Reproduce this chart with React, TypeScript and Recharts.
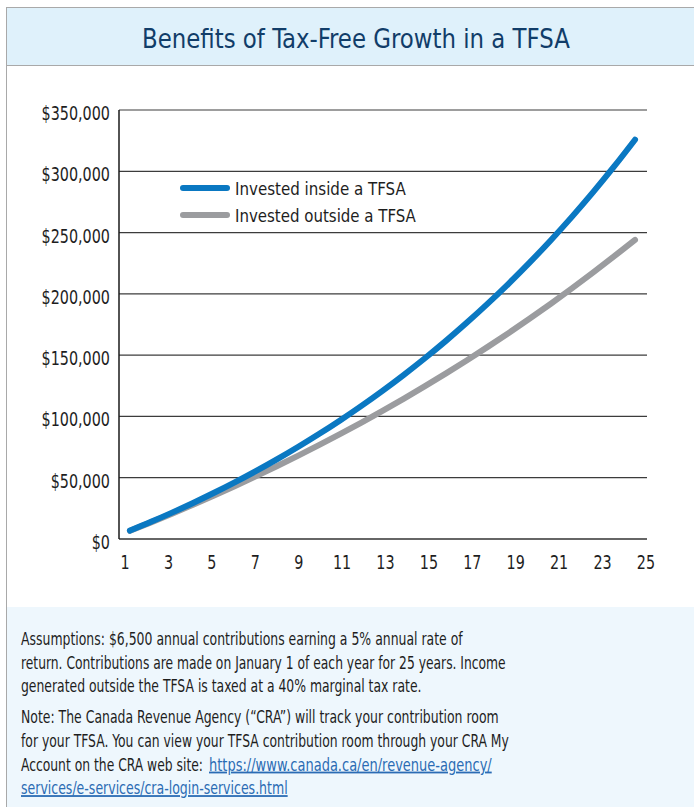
import React from "react";
import { LineChart, Line, XAxis, YAxis, CartesianGrid, Legend } from "recharts";

const years = [1, 2, 3, 4, 5, 6, 7, 8, 9, 10, 11, 12, 13, 14, 15, 16, 17, 18, 19, 20, 21, 22, 23, 24, 25];
const insideTFSA = [6825, 13990, 21520, 29420, 37710, 46420, 55570, 65170, 75260, 85840, 96960, 108630, 120890, 133760, 147270, 161460, 176360, 192000, 208430, 225680, 243780, 262800, 282760, 303730, 325740];
const outsideTFSA = [6695, 13590, 20690, 28010, 35540, 43300, 51300, 59530, 68010, 76750, 85750, 95010, 104560, 114390, 124520, 134950, 145690, 156760, 168160, 179890, 191990, 204440, 217270, 230480, 244090];
const xTicks = [1, 3, 5, 7, 9, 11, 13, 15, 17, 19, 21, 23, 25];
const yTicks = [0, 50000, 100000, 150000, 200000, 250000, 300000, 350000];
const seriesNames = ["Invested inside a TFSA", "Invested outside a TFSA"];
const title = "Benefits of Tax-Free Growth in a TFSA";
const assumptionLines = [
  "Assumptions: $6,500 annual contributions earning a 5% annual rate of",
  "return. Contributions are made on January 1 of each year for 25 years. Income",
  "generated outside the TFSA is taxed at a 40% marginal tax rate.",
];
const noteLines = [
  "Note: The Canada Revenue Agency (\u201CCRA\u201D) will track your contribution room",
  "for your TFSA. You can view your TFSA contribution room through your CRA My",
];
const noteLead = "Account on the CRA web site:";
const linkLines = ["https://www.canada.ca/en/revenue-agency/", "services/e-services/cra-login-services.html"];

const data = years.map((y, i) => ({ year: y, inside: insideTFSA[i], outside: outsideTFSA[i] }));

const FONT = "'Liberation Sans Narrow', 'DejaVu Sans Condensed', 'Arial Narrow', sans-serif";
const BLUE = "#0a78c2";
const GRAY = "#9b9c9f";
const TEXT = "#1e1e1e";
const LINK = "#2b6cb4";

const fmt = (v: number) => "$" + v.toLocaleString("en-US");

let measureCtx: CanvasRenderingContext2D | null = null;
const measure = (txt: string, size: number): number => {
  try {
    if (!measureCtx) measureCtx = document.createElement("canvas").getContext("2d");
    if (!measureCtx) return 0;
    measureCtx.font = `${size}px ${FONT}`;
    return measureCtx.measureText(txt).width;
  } catch (e) {
    return 0;
  }
};

const FitText = ({ x, y, w, size, fill, underline, children }: any) => {
  const nat = measure(children, size);
  const s = nat > 0 ? w / nat : 1;
  return (
    <text
      transform={`translate(${x},${y}) scale(${s},1)`}
      fontFamily={FONT}
      fontSize={size}
      fill={fill}
      style={underline ? { textDecoration: "underline" } : undefined}
    >
      {children}
    </text>
  );
};

const YTick = (props: any) => {
  const { x, y, payload } = props;
  return (
    <text transform={`translate(${x},${y + 10}) scale(0.84,1)`} textAnchor="end" fontFamily={FONT} fontSize={19} fill={TEXT}>
      {fmt(payload.value)}
    </text>
  );
};

const XTick = (props: any) => {
  const { x, y, payload } = props;
  return (
    <text transform={`translate(${x},${y + 30}) scale(0.84,1)`} textAnchor="middle" fontFamily={FONT} fontSize={19} fill={TEXT}>
      {payload.value}
    </text>
  );
};

const LegendContent = () => (
  <svg width={260} height={54} style={{ display: "block" }}>
    <line x1={5} y1={12} x2={49} y2={12} stroke={BLUE} strokeWidth={6} strokeLinecap="round" />
    <FitText x={57} y={18.5} w={171} size={18} fill={TEXT}>{seriesNames[0]}</FitText>
    <line x1={5} y1={39} x2={49} y2={39} stroke={GRAY} strokeWidth={6} strokeLinecap="round" />
    <FitText x={57} y={45.5} w={181} size={18} fill={TEXT}>{seriesNames[1]}</FitText>
  </svg>
);

const footerLineXs = [463, 506, 422];
const noteLineXs = [499, 509];
const FS = 18;

export default function App() {
  return (
    <div style={{ position: "absolute", left: 0, top: 0, width: 694, height: 807, background: "#ffffff", overflow: "hidden" }}>
      {/* header */}
      <div style={{ position: "absolute", left: 6, top: 7, width: 688, height: 1, background: "#a9a9a9" }} />
      <div style={{ position: "absolute", left: 7, top: 8, width: 687, height: 57, background: "#dff1fb" }} />
      <div style={{ position: "absolute", left: 6, top: 65, width: 688, height: 1, background: "#a9a9a9" }} />
      {/* footer bg */}
      <div style={{ position: "absolute", left: 7, top: 607, width: 687, height: 200, background: "#eef7fd" }} />
      {/* left border */}
      <div style={{ position: "absolute", left: 6, top: 7, width: 1, height: 800, background: "#a9a9a9" }} />

      <div style={{ position: "absolute", left: 0, top: 66 }}>
        <LineChart width={694} height={540} data={data} margin={{ top: 44, right: 47, bottom: 37, left: 0 }}>
          <CartesianGrid horizontal vertical={false} stroke="#3c3c3c" strokeWidth={1.2} xAxisId="t" />
          <XAxis
            xAxisId="t"
            dataKey="year"
            type="number"
            domain={[0.72, 25.05]}
            allowDataOverflow
            ticks={xTicks}
            interval={0}
            tickLine={false}
            tickSize={0}
            tickMargin={0}
            axisLine={{ stroke: "#555555", strokeWidth: 1.5 }}
            tick={<XTick />}
            height={30}
          />
          <XAxis xAxisId="d" dataKey="year" type="number" domain={[0.48, 25.57]} allowDataOverflow hide height={0} />
          <YAxis
            domain={[0, 350000]}
            ticks={yTicks}
            interval={0}
            width={119}
            tickLine={false}
            tickSize={0}
            tickMargin={9}
            axisLine={{ stroke: "#1a1a1a", strokeWidth: 1.5 }}
            tick={<YTick />}
          />
          <Legend
            layout="horizontal"
            verticalAlign="middle"
            align="center"
            content={<LegendContent />}
            wrapperStyle={{ position: "absolute", left: 178, top: 110, width: 260, height: 54 }}
          />
          <Line xAxisId="d" dataKey="outside" name={seriesNames[1]} stroke={GRAY} strokeWidth={6} strokeLinecap="round" dot={false} type="monotone" isAnimationActive={false} />
          <Line xAxisId="d" dataKey="inside" name={seriesNames[0]} stroke={BLUE} strokeWidth={6} strokeLinecap="round" dot={false} type="monotone" isAnimationActive={false} />
        </LineChart>
      </div>

      <svg width={694} height={807} style={{ position: "absolute", left: 0, top: 0, pointerEvents: "none" }}>
        <FitText x={142} y={48} w={428} size={26} fill="#113d69">{title}</FitText>
        {assumptionLines.map((t, i) => (
          <FitText key={"a" + i} x={21} y={645 + i * 23.7} w={footerLineXs[i] - 21} size={FS} fill={TEXT}>{t}</FitText>
        ))}
        {noteLines.map((t, i) => (
          <FitText key={"n" + i} x={21} y={723 + i * 23.7} w={noteLineXs[i] - 21} size={FS} fill={TEXT}>{t}</FitText>
        ))}
        <FitText x={21} y={770.5} w={182} size={FS} fill={TEXT}>{noteLead}</FitText>
        <FitText x={209} y={770.5} w={283} size={FS} fill={LINK} underline>{linkLines[0]}</FitText>
        <FitText x={21} y={794} w={267} size={FS} fill={LINK} underline>{linkLines[1]}</FitText>
      </svg>
    </div>
  );
}
